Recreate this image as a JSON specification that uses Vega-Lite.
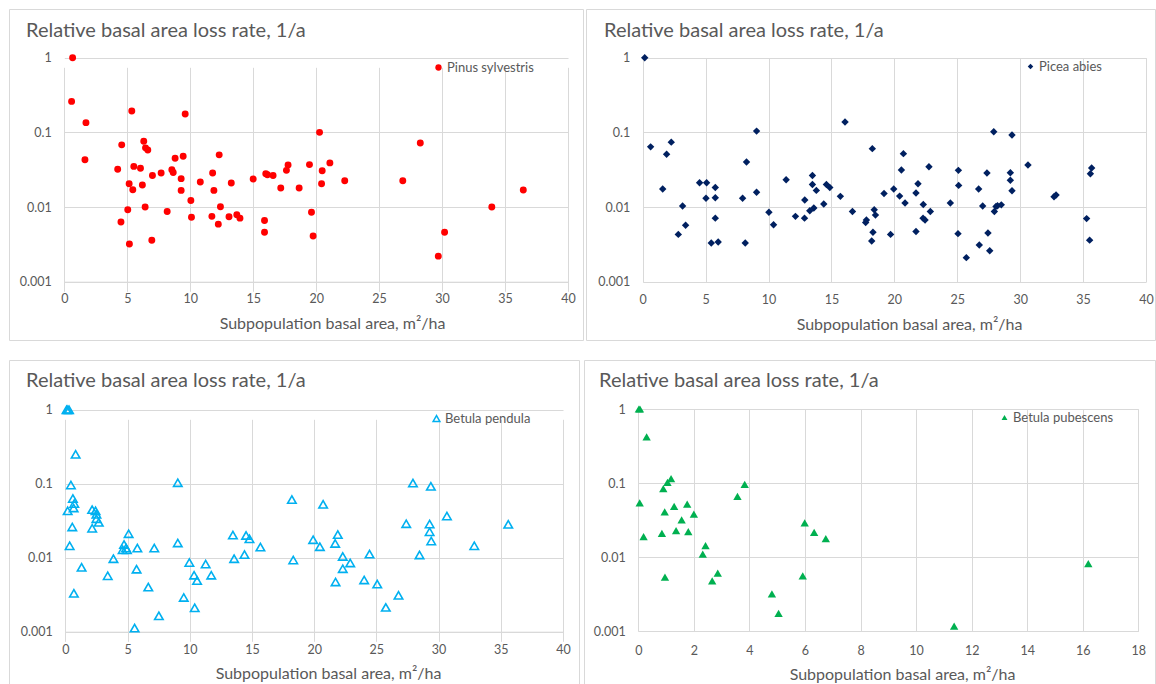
{
  "$schema": "https://vega.github.io/schema/vega-lite/v6.json",
  "padding": {"left": 8, "top": 8, "right": 0, "bottom": 0},
  "background": "white",
  "config": {
    "font": "Lato",
    "view": {"stroke": "#d9d9d9", "strokeWidth": 1},
    "axis": {
      "gridColor": "#d9d9d9", "gridWidth": 1, "domainColor": "#d9d9d9",
      "labelColor": "#595959", "titleColor": "#595959",
      "labelFont": "Lato", "titleFont": "Lato",
      "labelFontSize": 12.5, "titleFontSize": 16, "titleFontWeight": "normal",
      "ticks": false, "labelFlush": false, "labelOverlap": false
    },
    "title": {"font": "Lato", "fontSize": 20, "fontWeight": "normal", "color": "#595959", "anchor": "start", "frame": "group"},
    "legend": {"labelFont": "Lato", "labelFontSize": 13, "labelColor": "#595959", "padding": 0, "title": null}
  },
  "datasets": {
    "pinus": [
      {"x":0.66,"y":1.0},{"x":0.58,"y":0.26},{"x":1.72,"y":0.135},{"x":1.64,"y":0.043},{"x":5.36,"y":0.193},{"x":9.6,"y":0.176},
      {"x":4.56,"y":0.068},{"x":6.31,"y":0.076},{"x":6.45,"y":0.062},{"x":6.63,"y":0.058},{"x":4.24,"y":0.032},{"x":5.52,"y":0.035},
      {"x":6.05,"y":0.033},{"x":5.15,"y":0.0205},{"x":5.44,"y":0.017},{"x":6.2,"y":0.0197},{"x":7.0,"y":0.0265},{"x":7.69,"y":0.0285},
      {"x":8.54,"y":0.0316},{"x":8.65,"y":0.029},{"x":8.8,"y":0.045},{"x":9.44,"y":0.048},{"x":9.28,"y":0.024},{"x":9.28,"y":0.0167},
      {"x":10.05,"y":0.0122},{"x":10.1,"y":0.0073},{"x":10.8,"y":0.0216},{"x":11.78,"y":0.0285},{"x":11.88,"y":0.0167},{"x":12.3,"y":0.05},
      {"x":12.4,"y":0.0101},{"x":11.72,"y":0.0075},{"x":12.23,"y":0.0059},{"x":13.26,"y":0.021},{"x":13.08,"y":0.0074},{"x":13.7,"y":0.0079},
      {"x":13.95,"y":0.0071},{"x":15.0,"y":0.0237},{"x":16.0,"y":0.028},{"x":16.13,"y":0.027},{"x":16.58,"y":0.0265},{"x":17.19,"y":0.018},
      {"x":17.64,"y":0.031},{"x":17.77,"y":0.0366},{"x":18.65,"y":0.018},{"x":15.9,"y":0.0066},{"x":15.9,"y":0.0046},{"x":6.42,"y":0.01},
      {"x":5.04,"y":0.0092},{"x":8.17,"y":0.0087},{"x":4.5,"y":0.0063},{"x":5.17,"y":0.0032},{"x":6.95,"y":0.0036},{"x":20.27,"y":0.1},
      {"x":28.27,"y":0.072},{"x":19.47,"y":0.037},{"x":21.09,"y":0.039},{"x":20.48,"y":0.0307},{"x":20.43,"y":0.0205},{"x":22.27,"y":0.0225},
      {"x":26.88,"y":0.0225},{"x":36.45,"y":0.0169},{"x":33.95,"y":0.01},{"x":19.63,"y":0.0085},{"x":19.76,"y":0.0041},{"x":30.2,"y":0.0046},
      {"x":29.7,"y":0.0022}
    ],
    "picea": [
      {"x":0.16,"y":1.0},{"x":0.63,"y":0.064},{"x":2.27,"y":0.074},{"x":1.9,"y":0.051},{"x":1.59,"y":0.0174},{"x":3.17,"y":0.0103},
      {"x":3.41,"y":0.0057},{"x":2.83,"y":0.0043},{"x":4.52,"y":0.0211},{"x":5.08,"y":0.0211},{"x":5.03,"y":0.0131},{"x":5.77,"y":0.0183},
      {"x":5.77,"y":0.0133},{"x":5.77,"y":0.0071},{"x":5.45,"y":0.0033},{"x":6.0,"y":0.0034},{"x":8.25,"y":0.04},{"x":9.05,"y":0.104},
      {"x":9.05,"y":0.0158},{"x":7.94,"y":0.0131},{"x":8.15,"y":0.0033},{"x":10.03,"y":0.0085},{"x":10.4,"y":0.0058},{"x":11.4,"y":0.0232},
      {"x":12.14,"y":0.0075},{"x":12.88,"y":0.0124},{"x":12.86,"y":0.0071},{"x":13.49,"y":0.0265},{"x":13.49,"y":0.02},{"x":13.8,"y":0.0167},
      {"x":13.28,"y":0.0089},{"x":13.6,"y":0.0097},{"x":14.39,"y":0.011},{"x":14.6,"y":0.02},{"x":14.87,"y":0.0183},{"x":15.71,"y":0.0139},
      {"x":16.08,"y":0.138},{"x":16.67,"y":0.0087},{"x":17.72,"y":0.0062},{"x":17.78,"y":0.0067},{"x":18.25,"y":0.0605},{"x":18.3,"y":0.0046},
      {"x":18.2,"y":0.0035},{"x":18.4,"y":0.0092},{"x":18.5,"y":0.0078},{"x":19.18,"y":0.0152},{"x":19.95,"y":0.0174},{"x":19.7,"y":0.0043},
      {"x":20.72,"y":0.0519},{"x":20.56,"y":0.0313},{"x":20.42,"y":0.014},{"x":20.85,"y":0.0113},{"x":21.88,"y":0.0205},{"x":21.72,"y":0.0154},
      {"x":21.72,"y":0.0047},{"x":22.3,"y":0.0108},{"x":22.28,"y":0.0071},{"x":22.44,"y":0.0067},{"x":22.75,"y":0.0347},{"x":22.86,"y":0.0087},
      {"x":24.45,"y":0.0113},{"x":25.09,"y":0.031},{"x":25.11,"y":0.0195},{"x":25.06,"y":0.0044},{"x":25.72,"y":0.0021},{"x":26.7,"y":0.0174},
      {"x":26.75,"y":0.0031},{"x":27.02,"y":0.0103},{"x":27.36,"y":0.0285},{"x":27.44,"y":0.0045},{"x":27.58,"y":0.0026},{"x":27.9,"y":0.102},
      {"x":27.95,"y":0.0087},{"x":28.08,"y":0.0102},{"x":28.2,"y":0.0104},{"x":28.5,"y":0.0107},{"x":29.22,"y":0.0288},{"x":29.22,"y":0.0228},
      {"x":29.35,"y":0.0165},{"x":29.35,"y":0.092},{"x":30.62,"y":0.0365},{"x":32.69,"y":0.0137},{"x":32.85,"y":0.0145},{"x":35.28,"y":0.007},
      {"x":35.52,"y":0.0036},{"x":35.68,"y":0.0333},{"x":35.58,"y":0.0279}
    ],
    "pendula": [
      {"x":0.1,"y":1.0},{"x":0.2,"y":1.0},{"x":0.3,"y":1.0},{"x":0.83,"y":0.249},{"x":0.45,"y":0.096},{"x":0.61,"y":0.063},
      {"x":0.72,"y":0.054},{"x":0.67,"y":0.047},{"x":0.19,"y":0.043},{"x":0.56,"y":0.026},{"x":0.35,"y":0.0145},{"x":1.31,"y":0.0074},
      {"x":0.69,"y":0.0033},{"x":2.16,"y":0.0446},{"x":2.43,"y":0.043},{"x":2.5,"y":0.0385},{"x":2.5,"y":0.0337},{"x":2.69,"y":0.03},
      {"x":2.16,"y":0.025},{"x":5.09,"y":0.0211},{"x":4.72,"y":0.0151},{"x":4.61,"y":0.0128},{"x":4.88,"y":0.0135},{"x":4.95,"y":0.0128},
      {"x":5.79,"y":0.0135},{"x":7.15,"y":0.0135},{"x":3.87,"y":0.0097},{"x":3.41,"y":0.0057},{"x":5.73,"y":0.007},{"x":6.67,"y":0.004},
      {"x":7.52,"y":0.00164},{"x":5.57,"y":0.00112},{"x":9.04,"y":0.103},{"x":9.04,"y":0.0158},{"x":9.97,"y":0.0086},{"x":10.35,"y":0.0058},
      {"x":10.59,"y":0.0049},{"x":9.52,"y":0.0029},{"x":10.4,"y":0.0021},{"x":11.28,"y":0.0082},{"x":11.73,"y":0.0058},{"x":13.47,"y":0.0202},
      {"x":13.57,"y":0.0097},{"x":14.53,"y":0.02},{"x":14.8,"y":0.018},{"x":14.4,"y":0.011},{"x":15.68,"y":0.0139},{"x":18.21,"y":0.0609},
      {"x":18.32,"y":0.0093},{"x":19.92,"y":0.0175},{"x":20.46,"y":0.0141},{"x":20.72,"y":0.0526},{"x":21.9,"y":0.0205},{"x":21.69,"y":0.0156},
      {"x":21.72,"y":0.0047},{"x":22.3,"y":0.0104},{"x":22.9,"y":0.0085},{"x":22.3,"y":0.0071},{"x":24.02,"y":0.005},{"x":24.45,"y":0.0112},
      {"x":25.07,"y":0.0044},{"x":25.76,"y":0.00213},{"x":26.78,"y":0.0031},{"x":27.4,"y":0.0288},{"x":27.94,"y":0.102},{"x":28.47,"y":0.0109},
      {"x":29.38,"y":0.092},{"x":29.28,"y":0.0285},{"x":29.28,"y":0.0224},{"x":29.41,"y":0.0168},{"x":30.67,"y":0.0366},{"x":32.87,"y":0.0145},
      {"x":35.6,"y":0.0282}
    ],
    "pubescens": [
      {"x":0.02,"y":1.0},{"x":0.06,"y":1.0},{"x":0.3,"y":0.42},{"x":0.05,"y":0.054},{"x":0.19,"y":0.019},{"x":0.9,"y":0.084},
      {"x":1.05,"y":0.102},{"x":1.18,"y":0.115},{"x":0.95,"y":0.041},{"x":1.29,"y":0.0486},{"x":1.76,"y":0.052},{"x":2.0,"y":0.038},
      {"x":1.56,"y":0.032},{"x":0.85,"y":0.021},{"x":1.36,"y":0.0228},{"x":1.8,"y":0.0221},{"x":2.42,"y":0.0143},{"x":2.32,"y":0.011},
      {"x":0.96,"y":0.0054},{"x":2.66,"y":0.0048},{"x":2.86,"y":0.0061},{"x":3.57,"y":0.066},{"x":3.83,"y":0.096},{"x":5.99,"y":0.029},
      {"x":6.33,"y":0.0217},{"x":6.75,"y":0.0178},{"x":5.92,"y":0.0056},{"x":4.81,"y":0.0032},{"x":5.05,"y":0.00175},{"x":11.37,"y":0.00117},
      {"x":16.2,"y":0.0082}
    ]
  },
  "spacing": 18,
  "resolve": {"scale": {"color": "independent"}},
  "vconcat": [
    {
      "spacing": 3,
      "bounds": "flush",
      "resolve": {"scale": {"color": "independent"}},
      "hconcat": [
        {
          "width": 574, "height": 331,
          "data": {"name": "pinus"},
          "title": {"text": "Relative basal area loss rate, 1/a", "offset": -48, "baseline": "alphabetic", "dx": 17},
          "mark": {"type": "point", "shape": "circle", "filled": true, "size": 48, "opacity": 1},
          "encoding": {
            "x": {"field": "x", "type": "quantitative",
              "scale": {"domain": [0, 40], "range": [55.3, 559], "nice": false},
              "axis": {"orient": "bottom", "offset": -58.3, "values": [0,5,10,15,20,25,30,35,40], "grid": true, "domain": true,
                "labelPadding": 11, "title": "Subpopulation basal area, m²/ha", "titleX": 323, "titleY": 42, "titleBaseline": "middle"}},
            "y": {"field": "y", "type": "quantitative",
              "scale": {"type": "log", "domain": [0.001, 1], "range": [272.7, 48.7], "nice": false},
              "axis": {"orient": "left", "offset": -55.3, "values": [0.001,0.01,0.1,1], "format": "~g", "grid": true, "domain": false, "labelPadding": 13, "title": null}},
            "color": {"datum": "Pinus sylvestris", "type": "nominal", "scale": {"range": ["#ff0000"]},
              "legend": {"orient": "none", "legendX": 423, "legendY": 52, "symbolType": "circle", "symbolSize": 40, "labelOffset": 2}}
          }
        },
        {
          "width": 569, "height": 331,
          "data": {"name": "picea"},
          "title": {"text": "Relative basal area loss rate, 1/a", "offset": -48, "baseline": "alphabetic", "dx": 18},
          "mark": {"type": "point", "shape": "diamond", "filled": true, "size": 55, "opacity": 1},
          "encoding": {
            "x": {"field": "x", "type": "quantitative",
              "scale": {"domain": [0, 40], "range": [56.7, 560], "nice": false},
              "axis": {"orient": "top", "offset": 0, "values": [0,5,10,15,20,25,30,35,40], "grid": true, "domain": false,
                "labelPadding": -290, "labelBaseline": "middle", "title": "Subpopulation basal area, m²/ha", "titleX": 323, "titleY": 315, "titleBaseline": "middle"}},
            "y": {"field": "y", "type": "quantitative",
              "scale": {"type": "log", "domain": [0.001, 1], "range": [272.7, 48.7], "nice": false},
              "axis": {"orient": "left", "offset": -56.7, "values": [0.001,0.01,0.1,1], "format": "~g", "grid": true, "domain": false, "labelPadding": 13, "title": null}},
            "color": {"datum": "Picea abies", "type": "nominal", "scale": {"range": ["#002060"]},
              "legend": {"orient": "none", "legendX": 438, "legendY": 51, "symbolType": "diamond", "symbolSize": 30, "labelOffset": 2}}
          }
        }
      ]
    },
    {
      "spacing": 5,
      "bounds": "flush",
      "resolve": {"scale": {"color": "independent"}},
      "hconcat": [
        {
          "width": 570, "height": 331,
          "data": {"name": "pendula"},
          "title": {"text": "Relative basal area loss rate, 1/a", "offset": -47, "baseline": "alphabetic", "dx": 17},
          "mark": {"type": "point", "shape": "triangle-up", "filled": false, "size": 72, "strokeWidth": 1.6, "opacity": 1},
          "encoding": {
            "x": {"field": "x", "type": "quantitative",
              "scale": {"domain": [0, 40], "range": [56.3, 554], "nice": false},
              "axis": {"orient": "bottom", "offset": -59.3, "values": [0,5,10,15,20,25,30,35,40], "grid": true, "domain": true,
                "labelPadding": 12, "title": "Subpopulation basal area, m²/ha", "titleX": 319, "titleY": 42, "titleBaseline": "middle"}},
            "y": {"field": "y", "type": "quantitative",
              "scale": {"type": "log", "domain": [0.001, 1], "range": [271.7, 49.7], "nice": false},
              "axis": {"orient": "left", "offset": -56.3, "values": [0.001,0.01,0.1,1], "format": "~g", "grid": true, "domain": false, "labelPadding": 13, "title": null}},
            "color": {"datum": "Betula pendula", "type": "nominal", "scale": {"range": ["#00b0f0"]},
              "legend": {"orient": "none", "legendX": 421, "legendY": 52, "symbolType": "triangle-up", "symbolSize": 45, "symbolStrokeWidth": 1.5, "labelOffset": 2}}
          }
        },
        {
          "width": 571, "height": 331,
          "data": {"name": "pubescens"},
          "title": {"text": "Relative basal area loss rate, 1/a", "offset": -47, "baseline": "alphabetic", "dx": 15},
          "mark": {"type": "point", "shape": "triangle-up", "filled": true, "size": 70, "opacity": 1},
          "encoding": {
            "x": {"field": "x", "type": "quantitative",
              "scale": {"domain": [0, 18], "range": [54.3, 554.3], "nice": false},
              "axis": {"orient": "top", "offset": 0, "values": [0,2,4,6,8,10,12,14,16,18], "grid": true, "domain": false,
                "labelPadding": -290, "labelBaseline": "middle", "title": "Subpopulation basal area, m²/ha", "titleX": 318, "titleY": 314, "titleBaseline": "middle"}},
            "y": {"field": "y", "type": "quantitative",
              "scale": {"type": "log", "domain": [0.001, 1], "range": [271.3, 49], "nice": false},
              "axis": {"orient": "left", "offset": -54.3, "values": [0.001,0.01,0.1,1], "format": "~g", "grid": true, "domain": false, "labelPadding": 13, "title": null}},
            "color": {"datum": "Betula pubescens", "type": "nominal", "scale": {"range": ["#00b050"]},
              "legend": {"orient": "none", "legendX": 414, "legendY": 51, "symbolType": "triangle-up", "symbolSize": 35, "labelOffset": 2}}
          }
        }
      ]
    }
  ]
}
